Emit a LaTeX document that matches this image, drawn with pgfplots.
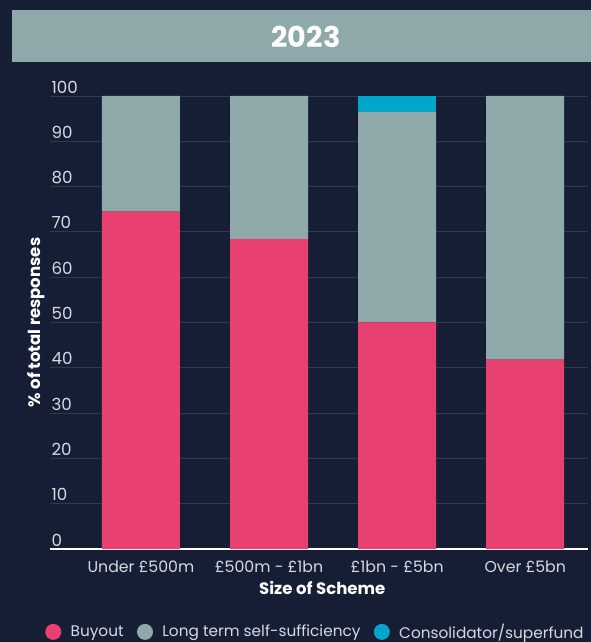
\documentclass[border=0pt]{standalone}
\usepackage{fontspec}
\setmainfont{Poppins}
\usepackage{pgfplots}
\pgfplotsset{compat=1.18}
\definecolor{bg}{HTML}{151E35}
\definecolor{greyc}{HTML}{8FA8AA}
\definecolor{pinkc}{HTML}{E84070}
\definecolor{bluec}{HTML}{00A5C9}
\definecolor{gridc}{HTML}{2F3A50}
\definecolor{tickc}{HTML}{D5DAE0}
\begin{document}
\begin{tikzpicture}
\fill[bg] (0pt,0pt) rectangle (443.25pt,481.5pt);
\fill[greyc] (9pt,435pt) rectangle (443.25pt,474pt);
\node[white, font=\bfseries\fontsize{21.5}{24}\selectfont] at (229.5pt,454pt) {2023};
\begin{axis}[
  at={(37.5pt,69.75pt)}, anchor=south west,
  scale only axis, width=403.5pt, height=339.75pt,
  ybar stacked, bar width=58.5pt,
  xmin=-0.71, xmax=3.49, ymin=0, ymax=100,
  xtick={0,1,2,3},
  xticklabels={Under £500m, £500m - £1bn, £1bn - £5bn, Over £5bn},
  ytick={0,10,...,100},
  ymajorgrids, grid style={draw=gridc, line width=0.7pt},
  axis x line=bottom, axis y line=left,
  y axis line style={draw=none},
  x axis line style={draw=white, line width=1pt, -},
  major tick length=0pt,
  clip=false,
  /pgf/number format/assume math mode=true,
  yticklabel style={anchor=south west, inner sep=1pt, xshift=0pt, yshift=1pt, text=tickc, font=\fontsize{12.5}{14}\selectfont},
  xticklabel style={text=tickc, font=\fontsize{11.8}{14}\selectfont, yshift=-5.5pt},
  ylabel={\% of total responses},
  ylabel style={at={(axis description cs:-0.026,0.5)}, anchor=center, rotate=0, text=white, font=\bfseries\fontsize{12.4}{14}\selectfont},
  xlabel={Size of Scheme},
  xlabel style={at={(axis description cs:0.506,-0.086)}, anchor=center, text=white, font=\bfseries\fontsize{12.4}{14}\selectfont},
  legend style={at={(axis description cs:0.494,-0.183)}, anchor=center, draw=none, fill=none, inner sep=0pt, text=tickc, font=\fontsize{11.5}{13}\selectfont, legend columns=3, /tikz/every even column/.append style={column sep=8pt}, /tikz/every odd column/.append style={column sep=5pt}},
  legend image code/.code={\fill[#1, draw=none] (0.15cm,0pt) circle (6pt);},
]
\addplot[fill=pinkc, draw=none] coordinates {(0,74.5) (1,68.4) (2,50) (3,41.8)};
\addplot[fill=greyc, draw=none] coordinates {(0,25.5) (1,31.6) (2,46.5) (3,58.2)};
\addplot[fill=bluec, draw=none] coordinates {(0,0) (1,0) (2,3.5) (3,0)};
\legend{Buyout, Long term self-sufficiency, Consolidator/superfund}
\end{axis}
\pgfresetboundingbox
\useasboundingbox (0pt,0pt) rectangle (443.25pt,481.5pt);
\end{tikzpicture}
\end{document}
